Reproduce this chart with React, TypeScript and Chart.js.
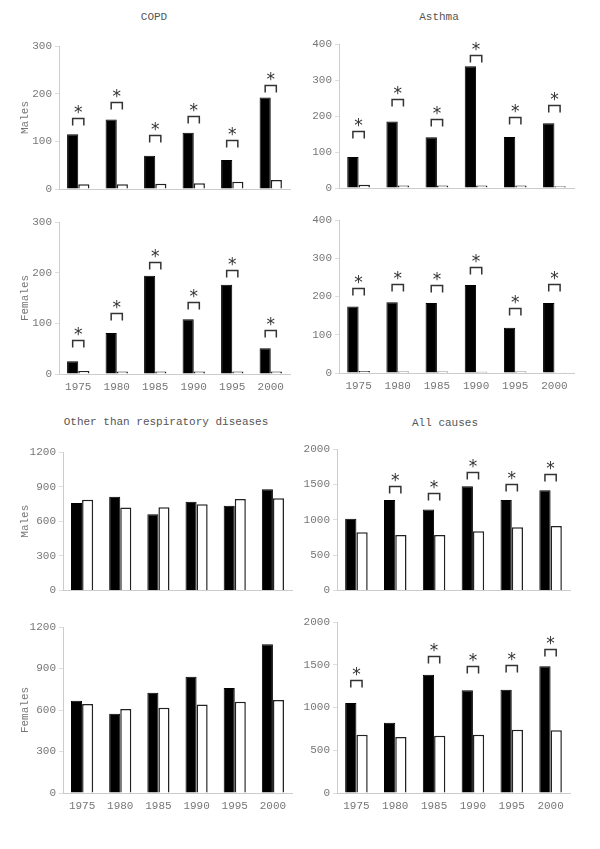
import React, { useEffect, useRef } from "react";
import { Chart, registerables } from "chart.js";

Chart.register(...registerables);

const years = ["1975", "1980", "1985", "1990", "1995", "2000"];

// COPD
const copdMalesA = [115, 146, 70, 118, 61, 192];
const copdMalesB = [10, 10, 11, 12, 15, 19];
const copdMalesSig = [150, 183, 113, 154, 102, 218];
const copdFemalesA = [25, 81, 194, 108, 176, 51];
const copdFemalesB = [6, 5, 5, 5, 5, 5];
const copdFemalesSig = [67, 120, 221, 142, 205, 87];

// Asthma
const asthmaMalesA = [86, 185, 141, 338, 142, 180];
const asthmaMalesB = [9, 7, 7, 7, 7, 5];
const asthmaMalesSig = [159, 247, 193, 370, 197, 230];
const asthmaFemalesA = [174, 185, 183, 230, 118, 183];
const asthmaFemalesB = [5, 4, 4, 3, 4, 2];
const asthmaFemalesSig = [223, 233, 230, 278, 171, 233];

// Other than respiratory diseases
const otherMalesA = [758, 812, 660, 769, 735, 878];
const otherMalesB = [787, 718, 720, 746, 792, 798];
const otherFemalesA = [667, 573, 725, 841, 759, 1075];
const otherFemalesB = [643, 607, 617, 639, 660, 672];

// All causes
const allMalesA = [1014, 1277, 1146, 1474, 1277, 1418];
const allMalesB = [822, 784, 784, 836, 892, 911];
const allMalesSig = [null, 1474, 1376, 1681, 1502, 1643];
const allFemalesA = [1053, 823, 1384, 1201, 1209, 1482];
const allFemalesB = [682, 655, 671, 682, 741, 733];
const allFemalesSig = [1326, null, 1599, 1482, 1501, 1680];

const FONT = "'Liberation Mono', 'DejaVu Sans Mono', monospace";

type PanelProps = {
  left: number;
  top: number;
  w: number;
  h: number;
  yW: number;
  padR: number;
  padTop: number;
  xH: number;
  a: number[];
  b: number[];
  sig?: (number | null)[];
  yMax: number;
  yStep: number;
  showX: boolean;
  yTitle?: string;
};

function Panel(p: PanelProps) {
  const ref = useRef<HTMLCanvasElement | null>(null);
  useEffect(() => {
    if (!ref.current) return;
    const bracketPlugin = {
      id: "brackets",
      afterDatasetsDraw(chart: any) {
        if (!p.sig) return;
        const ctx = chart.ctx as CanvasRenderingContext2D;
        const m0 = chart.getDatasetMeta(0);
        const m1 = chart.getDatasetMeta(1);
        const ys = chart.scales.y;
        ctx.save();
        ctx.strokeStyle = "#333";
        ctx.lineWidth = 1.5;
        ctx.fillStyle = "#333";
        ctx.font = "17px 'DejaVu Sans'";
        ctx.textAlign = "center";
        ctx.textBaseline = "alphabetic";
        const mt = ctx.measureText("*");
        const desc = mt.actualBoundingBoxDescent;
        p.sig.forEach((v, i) => {
          if (v == null) return;
          const x1 = m0.data[i].x;
          const x2 = m1.data[i].x;
          const y = Math.round(ys.getPixelForValue(v)) + 0.5;
          ctx.beginPath();
          ctx.moveTo(x1, y + 7);
          ctx.lineTo(x1, y);
          ctx.lineTo(x2, y);
          ctx.lineTo(x2, y + 7);
          ctx.stroke();
          ctx.fillText("*", (x1 + x2) / 2, y - 5 - desc);
        });
        ctx.restore();
      },
    };
    const chart = new Chart(ref.current, {
      type: "bar",
      data: {
        labels: years,
        datasets: [
          {
            data: p.a,
            backgroundColor: "#000",
            borderColor: "#000",
            borderWidth: 1,
            categoryPercentage: 0.58,
            barPercentage: 1,
          },
          {
            data: p.b,
            backgroundColor: "#fff",
            borderColor: "#222",
            borderWidth: 1.5,
            categoryPercentage: 0.58,
            barPercentage: 1,
          },
        ],
      },
      options: {
        animation: false,
        responsive: false,
        maintainAspectRatio: false,
        layout: { padding: { top: p.padTop, right: p.padR, left: 0, bottom: 0 } },
        plugins: {
          legend: { display: false },
          tooltip: { enabled: false },
          title: { display: false },
        },
        scales: {
          x: {
            grid: { display: false, drawTicks: false },
            border: { display: true, color: "#ccc" },
            ticks: {
              display: p.showX,
              color: "#777",
              font: { family: FONT, size: 11 },
              padding: 6,
            },
            afterFit: (s: any) => {
              s.height = p.xH;
            },
          },
          y: {
            min: 0,
            max: p.yMax,
            ticks: {
              stepSize: p.yStep,
              color: "#777",
              font: { family: FONT, size: 11 },
              padding: 3,
              callback: (v: any) => String(v),
            },
            grid: { drawOnChartArea: false, drawTicks: true, tickLength: 4, color: "#ddd" },
            border: { display: true, color: "#ccc" },
            title: {
              display: !!p.yTitle,
              text: p.yTitle || "",
              color: "#777",
              font: { family: FONT, size: 11 },
              padding: { top: 18, bottom: 0 },
            },
            afterFit: (s: any) => {
              s.width = p.yW;
            },
          },
        },
      },
      plugins: [bracketPlugin],
    } as any);
    return () => chart.destroy();
  }, []);
  return (
    <canvas
      ref={ref}
      width={p.w}
      height={p.h}
      style={{ position: "absolute", left: p.left, top: p.top, width: p.w, height: p.h }}
    />
  );
}

function Title({ text, x, y }: { text: string; x: number; y: number }) {
  return (
    <div
      style={{
        position: "absolute",
        left: x,
        top: y,
        transform: "translate(-50%, -50%)",
        fontFamily: FONT,
        fontSize: 11,
        color: "#555",
        whiteSpace: "nowrap",
      }}
    >
      {text}
    </div>
  );
}

export default function App() {
  return (
    <div style={{ position: "absolute", left: 0, top: 0, width: 600, height: 849, background: "#fff" }}>
      <Title text="COPD" x={154} y={17} />
      <Title text="Asthma" x={439} y={17} />
      <Title text="Other than respiratory diseases" x={166} y={422} />
      <Title text="All causes" x={445} y={423} />

      <Panel left={0} top={30} w={300} h={170} yW={59} padR={10} padTop={16} xH={11}
        a={copdMalesA} b={copdMalesB} sig={copdMalesSig} yMax={300} yStep={100} showX={false} yTitle="Males" />
      <Panel left={0} top={200} w={300} h={200} yW={59} padR={10} padTop={22} xH={26}
        a={copdFemalesA} b={copdFemalesB} sig={copdFemalesSig} yMax={300} yStep={100} showX={true} yTitle="Females" />

      <Panel left={300} top={30} w={300} h={170} yW={39} padR={26} padTop={14} xH={12}
        a={asthmaMalesA} b={asthmaMalesB} sig={asthmaMalesSig} yMax={400} yStep={100} showX={false} />
      <Panel left={300} top={200} w={300} h={200} yW={39} padR={26} padTop={20} xH={27}
        a={asthmaFemalesA} b={asthmaFemalesB} sig={asthmaFemalesSig} yMax={400} yStep={100} showX={true} />

      <Panel left={0} top={430} w={300} h={170} yW={63} padR={8} padTop={22} xH={9}
        a={otherMalesA} b={otherMalesB} yMax={1200} yStep={300} showX={false} yTitle="Males" />
      <Panel left={0} top={600} w={300} h={230} yW={63} padR={8} padTop={27} xH={37}
        a={otherFemalesA} b={otherFemalesB} yMax={1200} yStep={300} showX={true} yTitle="Females" />

      <Panel left={300} top={430} w={300} h={170} yW={37} padR={30} padTop={19} xH={9}
        a={allMalesA} b={allMalesB} sig={allMalesSig} yMax={2000} yStep={500} showX={false} />
      <Panel left={300} top={600} w={300} h={230} yW={37} padR={30} padTop={22} xH={37}
        a={allFemalesA} b={allFemalesB} sig={allFemalesSig} yMax={2000} yStep={500} showX={true} />
    </div>
  );
}
